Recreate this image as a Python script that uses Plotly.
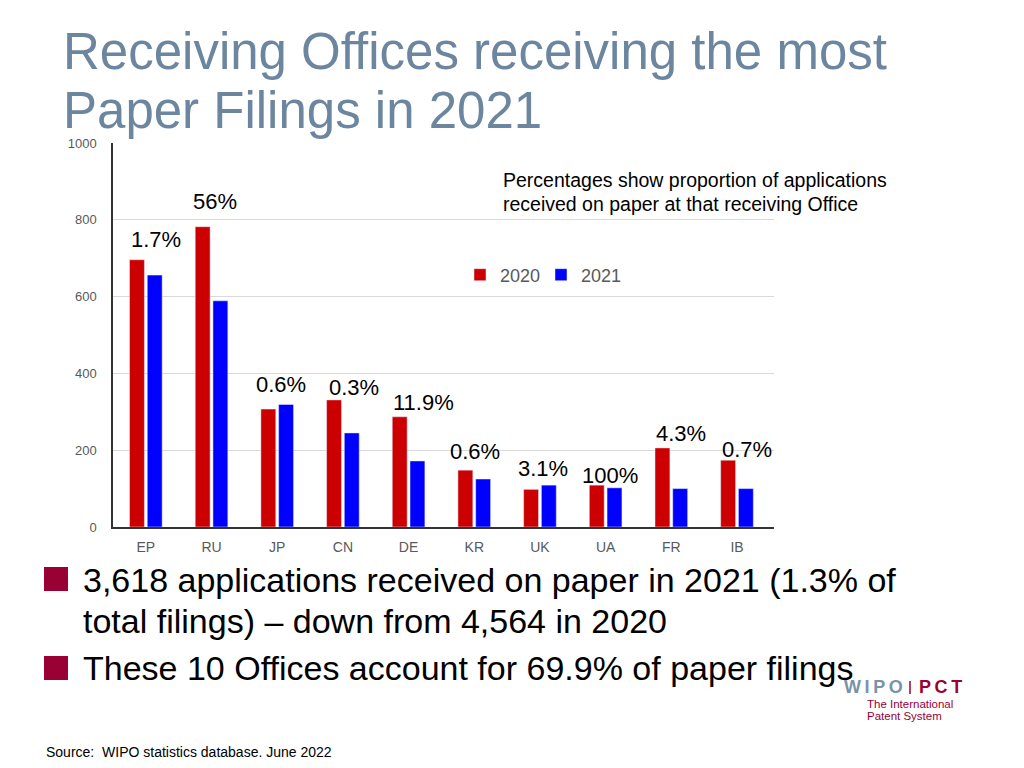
import plotly.graph_objects as go

offices = ["EP", "RU", "JP", "CN", "DE", "KR", "UK", "UA", "FR", "IB"]
filings_2020 = [696, 782, 307, 331, 287, 148, 98, 109, 206, 174]
filings_2021 = [656, 589, 319, 245, 172, 125, 109, 102, 100, 100]
paper_share = ["1.7%", "56%", "0.6%", "0.3%", "11.9%", "0.6%", "3.1%", "100%", "4.3%", "0.7%"]
y_ticks = [0, 200, 400, 600, 800, 1000]

# label offsets (pixels) relative to top of the taller bar
label_dx = [10, 3, 4, 11, 15, 1, 3, 4, 10, 10]
label_dy = [20, 25, 20, 12, 14, 19, 17, 10, 14, 11]

PAGE_W, PAGE_H, BODY = 1024, 768, 8
W, H = PAGE_W - BODY, PAGE_H - BODY
L, R, T, B = 113, 774, 143, 527   # plot area in page pixels
FONT = "Liberation Sans, Arial, Helvetica, sans-serif"
TS = "\u2009"  # thin space used as letter spacing in the logo

def px(x):
    return (x - L) / (R - L)

def py(y):
    return (B - y) / (B - T)

fig = go.Figure()
fig.add_trace(go.Bar(x=offices, y=filings_2020, name="2020", marker_color="#cc0000"))
fig.add_trace(go.Bar(x=offices, y=filings_2021, name="2021", marker_color="#0000ff"))

annotations = []
for i, off in enumerate(offices):
    top = max(filings_2020[i], filings_2021[i])
    annotations.append(dict(x=off, y=top, xref="x", yref="y", text=paper_share[i],
                            showarrow=False, xshift=label_dx[i], yshift=label_dy[i],
                            yanchor="middle", xanchor="center",
                            font=dict(size=22, color="#000000", family=FONT)))

title_color = "#6c86a0"
text_items = [
    (61, 51, "Receiving Offices receiving the most", 51, title_color),
    (61, 110, "Paper Filings in 2021", 51, title_color),
    (501, 180, "Percentages show proportion of applications", 19.5, "#000000"),
    (501, 204, "received on paper at that receiving Office", 19.5, "#000000"),
    (81, 580, "3,618 applications received on paper in 2021 (1.3% of", 34, "#000000"),
    (81, 621, "total filings) \u2013 down from 4,564 in 2020", 34, "#000000"),
    (81, 668, "These 10 Offices account for 69.9% of paper filings", 34, "#000000"),
    (44, 752, "Source:  WIPO statistics database. June 2022", 14, "#000000"),
    (865, 704, "The International", 11.5, "#9b0036"),
    (865, 716, "Patent System", 11.5, "#9b0036"),
]
for x, y, text, size, color in text_items:
    annotations.append(dict(x=px(x), y=py(y), xref="paper", yref="paper", text=text, showarrow=False,
                            xanchor="left", yanchor="middle",
                            font=dict(size=size, color=color, family=FONT)))
annotations.append(dict(x=px(842), y=py(687), xref="paper", yref="paper", showarrow=False,
                        text="<b>" + TS.join("WIPO") + "</b>", xanchor="left", yanchor="middle",
                        font=dict(size=18, color="#7a92a8", family=FONT)))
annotations.append(dict(x=px(917), y=py(687), xref="paper", yref="paper", showarrow=False,
                        text="<b>" + TS.join("PCT") + "</b>", xanchor="left", yanchor="middle",
                        font=dict(size=18, color="#9b0036", family=FONT)))

shapes = [
    dict(type="rect", xref="paper", yref="paper", x0=px(44), x1=px(68), y0=py(567), y1=py(591),
         fillcolor="#990033", line=dict(width=0)),
    dict(type="rect", xref="paper", yref="paper", x0=px(44), x1=px(68), y0=py(656), y1=py(680),
         fillcolor="#990033", line=dict(width=0)),
    dict(type="line", xref="paper", yref="paper", x0=px(910), x1=px(910), y0=py(681), y1=py(694),
         line=dict(color="#9b0036", width=1.5)),
]

fig.update_layout(
    width=W, height=H,
    margin=dict(l=L - BODY, r=PAGE_W - R, t=T - BODY, b=PAGE_H - B, pad=0),
    paper_bgcolor="white", plot_bgcolor="white",
    barmode="group", bargap=0.46, bargroupgap=0.16,
    font=dict(family=FONT),
    showlegend=True,
    legend=dict(orientation="h", x=px(460), y=py(275), xanchor="left", yanchor="middle",
                font=dict(size=18, color="#595959", family=FONT), bgcolor="rgba(0,0,0,0)",
                itemwidth=30, entrywidth=36, entrywidthmode="pixels", tracegroupgap=0),
    annotations=annotations, shapes=shapes,
    xaxis=dict(showline=True, linecolor="#333333", linewidth=1.5, showgrid=False,
               tickfont=dict(size=14, color="#595959"), ticks="", ticklabelstandoff=6, fixedrange=True),
    yaxis=dict(range=[0, 1000], tickvals=y_ticks, showline=True, linecolor="#333333", linewidth=1.5,
               showgrid=True, gridcolor="#d9d9d9", gridwidth=1, zeroline=False,
               tickfont=dict(size=13, color="#595959"), ticks="", ticklabelstandoff=12, fixedrange=True),
)

fig.write_html("out.html", config={"displayModeBar": False})
